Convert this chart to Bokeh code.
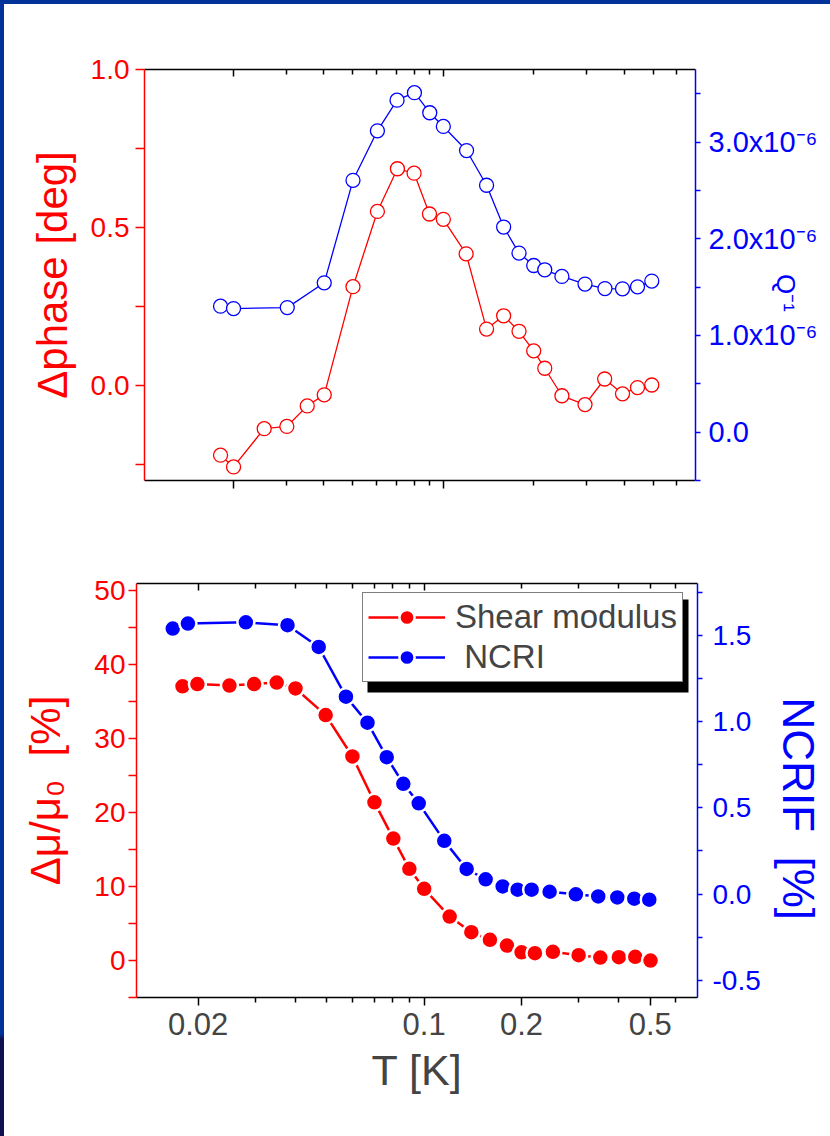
from bokeh.plotting import figure
from bokeh.layouts import column, row
from bokeh.models import (Range1d, LinearAxis, LogAxis, FixedTicker, Legend, LegendItem,
                          BoxAnnotation, Spacer)
from bokeh.embed import file_html
from bokeh.resources import INLINE

RED = "#ff0000"
BLUE = "#0000ff"
FONT = "Liberation Sans"
SLIDE = "#003399"
NB = "\u00a0"

# ---------------- data: upper panel ----------------
T_phase = [0.0181, 0.0200, 0.0253, 0.0301, 0.0352, 0.0401, 0.0500, 0.0603, 0.0703, 0.0799,
           0.0899, 0.1000, 0.1191, 0.1393, 0.1588, 0.1787, 0.2000, 0.2177, 0.2483, 0.2965,
           0.3447, 0.3953, 0.4435, 0.4948]
dphase = [-0.220, -0.257, -0.136, -0.129, -0.064, -0.029, 0.313, 0.551, 0.686, 0.672,
          0.543, 0.526, 0.417, 0.179, 0.221, 0.172, 0.110, 0.055, -0.032, -0.060,
          0.021, -0.026, -0.006, 0.002]

T_q = [0.0181, 0.0200, 0.0302, 0.0401, 0.0500, 0.0603, 0.0701, 0.0801, 0.0901, 0.1000,
       0.1195, 0.1393, 0.1588, 0.1787, 0.2000, 0.2177, 0.2483, 0.2965, 0.3455, 0.3953,
       0.4435, 0.4948]
q_inv = [1.303e-6, 1.278e-6, 1.288e-6, 1.544e-6, 2.604e-6, 3.116e-6, 3.433e-6, 3.510e-6,
         3.303e-6, 3.161e-6, 2.912e-6, 2.553e-6, 2.121e-6, 1.852e-6, 1.723e-6, 1.679e-6,
         1.610e-6, 1.531e-6, 1.485e-6, 1.482e-6, 1.503e-6, 1.562e-6]

# ---------------- data: lower panel ----------------
T_shear = [0.0179, 0.0199, 0.0250, 0.0298, 0.0350, 0.0400, 0.0496, 0.0600, 0.0702, 0.0803,
           0.0900, 0.1000, 0.1199, 0.1399, 0.1597, 0.1803, 0.2001, 0.2200, 0.2500, 0.3003,
           0.3504, 0.3999, 0.4494, 0.5010]
shear = [37.1, 37.4, 37.2, 37.4, 37.6, 36.8, 33.2, 27.6, 21.4, 16.5,
         12.4, 9.7, 5.95, 3.83, 2.8, 2.03, 1.12, 0.99, 1.18, 0.72,
         0.41, 0.45, 0.50, 0.0]

T_ncri = [0.0167, 0.0186, 0.0281, 0.0378, 0.0472, 0.0573, 0.0668, 0.0766, 0.0862, 0.0962,
          0.1154, 0.1353, 0.1549, 0.1749, 0.1945, 0.2149, 0.2443, 0.2944, 0.3453, 0.3955,
          0.4464, 0.4966]
ncrif = [1.539, 1.568, 1.575, 1.558, 1.432, 1.144, 0.993, 0.793, 0.639, 0.526,
         0.308, 0.145, 0.085, 0.044, 0.025, 0.025, 0.013, -0.002, -0.014, -0.020,
         -0.027, -0.033]

# ---------------- ticks and labels ----------------
x_major_top = [0.02, 0.1]
x_major_bottom = [0.02, 0.1, 0.2, 0.5]
x_major_bottom_labels = ["0.02", "0.1", "0.2", "0.5"]
x_minor = [0.03, 0.04, 0.05, 0.06, 0.07, 0.08, 0.09, 0.3, 0.4, 0.6]
x_minor_top = x_minor + [0.2, 0.5]

phase_ticks = [0.0, 0.5, 1.0]
phase_tick_labels = ["0.0", "0.5", "1.0"]
phase_minor = [-0.25, 0.25, 0.75]
q_ticks = [0.0, 1e-6, 2e-6, 3e-6]
q_tick_labels = ["0.0", "1.0x10\u207b\u2076", "2.0x10\u207b\u2076", "3.0x10\u207b\u2076"]
q_minor = [-0.5e-6, 0.5e-6, 1.5e-6, 2.5e-6, 3.5e-6]

shear_ticks = [0, 10, 20, 30, 40, 50]
shear_tick_labels = ["0", "10", "20", "30", "40", "50"]
shear_minor = [-5, 5, 15, 25, 35, 45]
ncri_ticks = [-0.5, 0.0, 0.5, 1.0, 1.5]
ncri_tick_labels = ["-0.5", "0.0", "0.5", "1.0", "1.5"]
ncri_minor = [-0.25, 0.25, 0.75, 1.25, 1.75]


def style_y(ax, color, tick_out, standoff, label_size="28px", title_size="42px"):
    ax.axis_line_color = color
    ax.axis_line_width = 1.5
    ax.major_tick_line_color = color
    ax.minor_tick_line_color = color
    ax.major_tick_line_width = 1.5
    ax.minor_tick_line_width = 1.5
    ax.major_tick_out = tick_out
    ax.major_tick_in = 0
    ax.minor_tick_out = tick_out
    ax.minor_tick_in = 0
    ax.major_label_text_color = color
    ax.major_label_text_font = FONT
    ax.major_label_text_font_size = label_size
    ax.major_label_standoff = standoff
    ax.axis_label_text_color = color
    ax.axis_label_text_font = FONT
    ax.axis_label_text_font_style = "normal"
    ax.axis_label_text_font_size = title_size


def make_x(major, minor, inward, labels=None):
    ax = LogAxis(ticker=FixedTicker(ticks=major, minor_ticks=minor))
    ax.axis_line_color = "black"
    ax.axis_line_width = 1.5
    ax.major_tick_line_width = 1.5
    ax.minor_tick_line_width = 1.5
    if inward:
        ax.major_tick_in, ax.major_tick_out = 7, 0
        ax.minor_tick_in, ax.minor_tick_out = 5, 0
    else:
        ax.major_tick_in, ax.major_tick_out = 0, 8
        ax.minor_tick_in, ax.minor_tick_out = 0, 5
    if labels is None:
        ax.major_label_overrides = {t: " " for t in major}
        ax.major_label_text_font_size = "2px"
        ax.major_label_text_color = None
        ax.major_label_standoff = 0
    else:
        ax.major_label_overrides = dict(zip(major, labels))
        ax.major_label_text_font = FONT
        ax.major_label_text_font_size = "31px"
        ax.major_label_standoff = 7
    return ax


# ================= upper figure =================
p1 = figure(width=812, height=496, x_axis_type="log", x_range=Range1d(0.0101, 0.692),
            y_range=Range1d(-0.30, 1.0), output_backend="svg", toolbar_location=None,
            x_axis_location=None, y_axis_location="left",
            min_border_left=132, min_border_right=129, min_border_top=65, min_border_bottom=20)
p1.outline_line_color = None
p1.grid.visible = False
p1.background_fill_color = "white"
p1.border_fill_color = "white"

p1.add_layout(make_x(x_major_top, x_minor_top, inward=False), "below")
p1.add_layout(make_x(x_major_top, x_minor_top, inward=True), "above")

yl = p1.yaxis[0]
yl.ticker = FixedTicker(ticks=phase_ticks, minor_ticks=phase_minor)
yl.major_label_overrides = dict(zip(phase_ticks, phase_tick_labels))
yl.axis_label = "\u0394phase [deg]"
style_y(yl, RED, 9, 6)
yl.axis_label_standoff = 12

p1.extra_y_ranges = {"q": Range1d(-0.5e-6, 3.75e-6)}
yr = LinearAxis(y_range_name="q", ticker=FixedTicker(ticks=q_ticks, minor_ticks=q_minor),
                major_label_overrides=dict(zip(q_ticks, q_tick_labels)))
style_y(yr, BLUE, 5, 8, label_size="29px", title_size="26px")
yr.axis_label = NB * 5 + "Q\u207b\u00b9"
yr.axis_label_standoff = -50
p1.add_layout(yr, "right")

p1.line(T_phase, dphase, line_color=RED, line_width=1.3)
p1.scatter(T_phase, dphase, size=14, fill_color="white", line_color=RED, line_width=1.3)
p1.line(T_q, q_inv, line_color=BLUE, line_width=1.3, y_range_name="q")
p1.scatter(T_q, q_inv, size=14, fill_color="white", line_color=BLUE, line_width=1.3,
           y_range_name="q")

# ================= lower figure =================
p2 = figure(width=822, height=636, x_axis_type="log", x_range=Range1d(0.0129, 0.700),
            y_range=Range1d(-5, 51), output_backend="svg", toolbar_location=None,
            x_axis_location=None, y_axis_location="left",
            min_border_left=132, min_border_right=129, min_border_top=83, min_border_bottom=139)
p2.outline_line_color = None
p2.grid.visible = False
p2.background_fill_color = "white"
p2.border_fill_color = "white"

xb = make_x(x_major_bottom, x_minor, inward=False, labels=x_major_bottom_labels)
xb.axis_label = "T [K]"
xb.axis_label_text_font = FONT
xb.axis_label_text_font_style = "normal"
xb.axis_label_text_font_size = "43px"
xb.axis_label_standoff = 8
p2.add_layout(xb, "below")
p2.add_layout(make_x(x_major_top, x_minor_top, inward=True), "above")

yl2 = p2.yaxis[0]
yl2.ticker = FixedTicker(ticks=shear_ticks, minor_ticks=shear_minor)
yl2.major_label_overrides = dict(zip(shear_ticks, shear_tick_labels))
yl2.axis_label = "\u0394\u03bc/\u03bc\u2080" + NB + " [%]"
style_y(yl2, RED, 8, 3)
yl2.axis_label_standoff = 22

p2.extra_y_ranges = {"ncri": Range1d(-0.60, 1.80)}
yr2 = LinearAxis(y_range_name="ncri", ticker=FixedTicker(ticks=ncri_ticks, minor_ticks=ncri_minor),
                 major_label_overrides=dict(zip(ncri_ticks, ncri_tick_labels)))
yr2.axis_label = NB * 3 + "NCRIF" + NB + " [%]"
style_y(yr2, BLUE, 5, 10, title_size="44px")
yr2.axis_label_standoff = 10
p2.add_layout(yr2, "right")

l_s = p2.line(T_shear, shear, line_color=RED, line_width=2.5)
s_s = p2.scatter(T_shear, shear, size=17, fill_color=RED, line_color="white", line_width=2.5)
l_n = p2.line(T_ncri, ncrif, line_color=BLUE, line_width=2.5, y_range_name="ncri")
s_n = p2.scatter(T_ncri, ncrif, size=17, fill_color=BLUE, line_color="white", line_width=2.5,
                 y_range_name="ncri")

shadow = BoxAnnotation(left=231, right=552, bottom=305, top=398,
                       left_units="screen", right_units="screen",
                       bottom_units="screen", top_units="screen",
                       fill_color="black", fill_alpha=1.0, line_color=None)
p2.add_layout(shadow)

legend = Legend(items=[LegendItem(label="Shear modulus", renderers=[l_s, s_s]),
                       LegendItem(label=" NCRI", renderers=[l_n, s_n])],
                location=(226, 315), margin=0, padding=5, spacing=2,
                glyph_width=77, glyph_height=38, label_height=38, label_standoff=10,
                label_text_font=FONT, label_text_font_size="33px",
                border_line_color="black", border_line_width=1.2,
                background_fill_color="white", background_fill_alpha=1.0)
p2.add_layout(legend)

left_strip = Spacer(width=4, height=1136,
                    styles={"background": "linear-gradient(#003399 0%, #003399 91%, "
                                          "#10104e 91.5%, #10104e 100%)"})
top_strip = Spacer(width=826, height=4, styles={"background-color": SLIDE})
indent = Spacer(width=8, height=496)

layout = row(left_strip, column(top_strip, row(indent, p1), p2))
open("out.html", "w").write(file_html(layout, INLINE))
